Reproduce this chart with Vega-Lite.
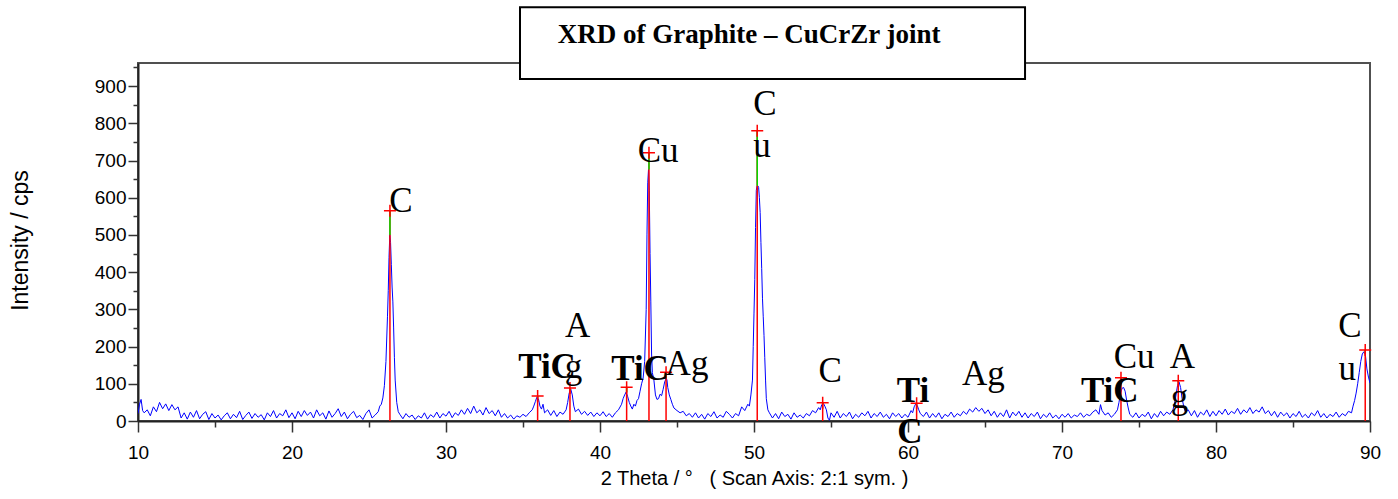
{
"$schema": "https://vega.github.io/schema/vega-lite/v6.json",
"width": 1232,
"height": 358,
"autosize": {"type": "none"},
"padding": {"left": 138, "top": 63, "right": 28, "bottom": 78},
"background": "white",
"config": {"view": {"stroke": "#505050", "strokeWidth": 2}},
"resolve": {"axis": {"x": "independent", "y": "independent"}},
"datasets": {
"xrd": [
{"t":10.0,"c":20},{"t":10.1,"c":45},{"t":10.2,"c":58},{"t":10.3,"c":28},{"t":10.4,"c":22},{"t":10.6,"c":30},{"t":10.8,"c":14},{"t":11.0,"c":38},{"t":11.2,"c":25},{"t":11.4,"c":50},{"t":11.6,"c":33},{"t":11.8,"c":46},{"t":12.0,"c":28},{"t":12.2,"c":44},{"t":12.4,"c":30},{"t":12.6,"c":38},{"t":12.8,"c":8},{"t":13.0,"c":22},{"t":13.2,"c":5},{"t":13.4,"c":24},{"t":13.6,"c":10},{"t":13.8,"c":28},{"t":14.0,"c":6},{"t":14.2,"c":18},{"t":14.4,"c":25},{"t":14.6,"c":4},{"t":14.8,"c":20},{"t":15.0,"c":8},{"t":15.2,"c":16},{"t":15.4,"c":3},{"t":15.6,"c":14},{"t":15.8,"c":22},{"t":16.0,"c":6},{"t":16.2,"c":18},{"t":16.4,"c":9},{"t":16.6,"c":26},{"t":16.8,"c":4},{"t":17.0,"c":15},{"t":17.2,"c":24},{"t":17.4,"c":7},{"t":17.6,"c":20},{"t":17.8,"c":10},{"t":18.0,"c":17},{"t":18.2,"c":3},{"t":18.4,"c":22},{"t":18.6,"c":12},{"t":18.8,"c":28},{"t":19.0,"c":8},{"t":19.2,"c":20},{"t":19.4,"c":14},{"t":19.6,"c":30},{"t":19.8,"c":9},{"t":20.0,"c":22},{"t":20.2,"c":6},{"t":20.4,"c":26},{"t":20.6,"c":12},{"t":20.8,"c":28},{"t":21.0,"c":15},{"t":21.2,"c":24},{"t":21.4,"c":8},{"t":21.6,"c":30},{"t":21.8,"c":14},{"t":22.0,"c":22},{"t":22.2,"c":5},{"t":22.4,"c":27},{"t":22.6,"c":10},{"t":22.8,"c":20},{"t":23.0,"c":33},{"t":23.2,"c":12},{"t":23.4,"c":24},{"t":23.6,"c":6},{"t":23.8,"c":18},{"t":24.0,"c":26},{"t":24.2,"c":9},{"t":24.4,"c":15},{"t":24.6,"c":4},{"t":24.8,"c":20},{"t":25.0,"c":30},{"t":25.2,"c":8},{"t":25.4,"c":16},{"t":25.6,"c":25},{"t":25.7,"c":40},{"t":25.8,"c":45},{"t":25.9,"c":62},{"t":26.0,"c":95},{"t":26.1,"c":160},{"t":26.2,"c":280},{"t":26.25,"c":350},{"t":26.3,"c":440},{"t":26.35,"c":500},{"t":26.4,"c":480},{"t":26.45,"c":420},{"t":26.5,"c":360},{"t":26.55,"c":320},{"t":26.6,"c":250},{"t":26.65,"c":170},{"t":26.7,"c":110},{"t":26.8,"c":50},{"t":26.9,"c":25},{"t":27.0,"c":18},
{"t":27.2,"c":6},{"t":27.4,"c":20},{"t":27.6,"c":10},{"t":27.8,"c":16},{"t":28.0,"c":4},{"t":28.2,"c":14},{"t":28.4,"c":8},{"t":28.6,"c":22},{"t":28.8,"c":5},{"t":29.0,"c":17},{"t":29.2,"c":10},{"t":29.4,"c":24},{"t":29.6,"c":8},{"t":29.8,"c":20},{"t":30.0,"c":13},{"t":30.2,"c":26},{"t":30.4,"c":9},{"t":30.6,"c":22},{"t":30.8,"c":15},{"t":31.0,"c":30},{"t":31.2,"c":18},{"t":31.4,"c":34},{"t":31.6,"c":20},{"t":31.8,"c":40},{"t":32.0,"c":22},{"t":32.2,"c":30},{"t":32.4,"c":16},{"t":32.6,"c":36},{"t":32.8,"c":20},{"t":33.0,"c":28},{"t":33.2,"c":14},{"t":33.4,"c":30},{"t":33.6,"c":10},{"t":33.8,"c":20},{"t":34.0,"c":8},{"t":34.2,"c":16},{"t":34.4,"c":5},{"t":34.6,"c":14},{"t":34.8,"c":10},{"t":35.0,"c":18},{"t":35.2,"c":12},{"t":35.4,"c":22},{"t":35.6,"c":30},{"t":35.7,"c":40},{"t":35.8,"c":52},{"t":35.9,"c":64},{"t":36.0,"c":60},{"t":36.1,"c":40},{"t":36.2,"c":32},{"t":36.3,"c":45},{"t":36.4,"c":22},{"t":36.6,"c":30},{"t":36.8,"c":15},{"t":37.0,"c":28},{"t":37.2,"c":12},{"t":37.4,"c":24},{"t":37.6,"c":18},{"t":37.8,"c":30},{"t":37.9,"c":50},{"t":38.0,"c":75},{"t":38.1,"c":86},{"t":38.2,"c":70},{"t":38.3,"c":40},{"t":38.4,"c":25},{"t":38.6,"c":32},{"t":38.8,"c":18},{"t":39.0,"c":26},{"t":39.2,"c":15},{"t":39.4,"c":24},{"t":39.6,"c":12},{"t":39.8,"c":22},{"t":40.0,"c":14},{"t":40.2,"c":25},{"t":40.4,"c":12},{"t":40.6,"c":20},{"t":40.8,"c":10},{"t":41.0,"c":22},{"t":41.2,"c":30},{"t":41.4,"c":45},{"t":41.5,"c":60},{"t":41.6,"c":70},{"t":41.7,"c":78},{"t":41.8,"c":65},{"t":41.9,"c":50},{"t":42.0,"c":40},{"t":42.1,"c":32},{"t":42.2,"c":45},{"t":42.3,"c":40},{"t":42.4,"c":55},{"t":42.5,"c":60},{"t":42.6,"c":80},{"t":42.7,"c":100},{"t":42.8,"c":115},{"t":42.9,"c":160},{"t":43.0,"c":300},{"t":43.05,"c":500},{"t":43.1,"c":640},{"t":43.15,"c":676},{"t":43.2,"c":620},{"t":43.25,"c":450},{"t":43.3,"c":320},{"t":43.35,"c":180},{"t":43.4,"c":130},{"t":43.5,"c":110},{"t":43.6,"c":70},{"t":43.7,"c":58},{"t":43.8,"c":60},{"t":43.9,"c":72},{"t":44.0,"c":68},{"t":44.1,"c":85},{"t":44.2,"c":105},{"t":44.3,"c":115},{"t":44.35,"c":110},{"t":44.4,"c":90},{"t":44.5,"c":70},{"t":44.6,"c":58},{"t":44.7,"c":45},{"t":44.8,"c":35},{"t":45.0,"c":28},{"t":45.2,"c":22},{"t":45.4,"c":26},{"t":45.6,"c":14},{"t":45.8,"c":20},
{"t":46.0,"c":10},{"t":46.2,"c":22},{"t":46.4,"c":8},{"t":46.6,"c":18},{"t":46.8,"c":5},{"t":47.0,"c":20},{"t":47.2,"c":12},{"t":47.4,"c":25},{"t":47.6,"c":8},{"t":47.8,"c":16},{"t":48.0,"c":10},{"t":48.2,"c":26},{"t":48.4,"c":18},{"t":48.6,"c":8},{"t":48.8,"c":20},{"t":49.0,"c":14},{"t":49.2,"c":38},{"t":49.4,"c":28},{"t":49.6,"c":45},{"t":49.7,"c":40},{"t":49.8,"c":70},{"t":49.9,"c":110},{"t":49.95,"c":200},{"t":50.0,"c":290},{"t":50.05,"c":380},{"t":50.1,"c":520},{"t":50.15,"c":620},{"t":50.2,"c":632},{"t":50.25,"c":632},{"t":50.3,"c":628},{"t":50.35,"c":600},{"t":50.4,"c":560},{"t":50.45,"c":480},{"t":50.5,"c":410},{"t":50.55,"c":330},{"t":50.6,"c":280},{"t":50.65,"c":230},{"t":50.7,"c":170},{"t":50.75,"c":110},{"t":50.8,"c":60},{"t":50.9,"c":30},{"t":51.0,"c":22},{"t":51.2,"c":8},{"t":51.4,"c":20},{"t":51.6,"c":6},{"t":51.8,"c":24},{"t":52.0,"c":12},{"t":52.2,"c":18},{"t":52.4,"c":5},{"t":52.6,"c":22},{"t":52.8,"c":10},{"t":53.0,"c":16},{"t":53.2,"c":8},{"t":53.4,"c":20},{"t":53.6,"c":14},{"t":53.8,"c":28},{"t":54.0,"c":22},{"t":54.2,"c":36},{"t":54.3,"c":30},{"t":54.4,"c":44},{"t":54.5,"c":48},{"t":54.6,"c":40},{"t":54.7,"c":30},{"t":54.8,"c":8},{"t":54.9,"c":2},{"t":55.0,"c":22},{"t":55.2,"c":10},{"t":55.4,"c":26},{"t":55.6,"c":8},{"t":55.8,"c":20},{"t":56.0,"c":12},{"t":56.2,"c":24},{"t":56.4,"c":6},{"t":56.6,"c":18},{"t":56.8,"c":10},{"t":57.0,"c":22},{"t":57.2,"c":14},{"t":57.4,"c":26},{"t":57.6,"c":8},{"t":57.8,"c":20},{"t":58.0,"c":12},{"t":58.2,"c":24},{"t":58.4,"c":10},{"t":58.6,"c":18},{"t":58.8,"c":6},{"t":59.0,"c":22},{"t":59.2,"c":12},{"t":59.4,"c":20},{"t":59.6,"c":8},{"t":59.8,"c":18},{"t":60.0,"c":10},{"t":60.2,"c":28},{"t":60.3,"c":22},{"t":60.4,"c":38},{"t":60.5,"c":46},{"t":60.6,"c":42},{"t":60.7,"c":30},{"t":60.8,"c":20},{"t":61.0,"c":12},{"t":61.2,"c":24},{"t":61.4,"c":8},{"t":61.6,"c":20},{"t":61.8,"c":10},{"t":62.0,"c":22},{"t":62.2,"c":6},{"t":62.4,"c":18},{"t":62.6,"c":12},{"t":62.8,"c":24},{"t":63.0,"c":10},{"t":63.2,"c":20},{"t":63.4,"c":14},{"t":63.6,"c":26},{"t":63.8,"c":18},{"t":64.0,"c":32},{"t":64.2,"c":24},{"t":64.4,"c":36},{"t":64.6,"c":26},{"t":64.8,"c":34},{"t":65.0,"c":20},{"t":65.2,"c":30},{"t":65.4,"c":14},{"t":65.6,"c":26},{"t":65.8,"c":10},{"t":66.0,"c":22},{"t":66.2,"c":12},{"t":66.4,"c":30},{"t":66.6,"c":8},{"t":66.8,"c":24},{"t":67.0,"c":14},{"t":67.2,"c":26},{"t":67.4,"c":10},{"t":67.6,"c":22},{"t":67.8,"c":8},{"t":68.0,"c":20},{"t":68.2,"c":12},{"t":68.4,"c":24},{"t":68.6,"c":6},{"t":68.8,"c":18},{"t":69.0,"c":10},{"t":69.2,"c":22},{"t":69.4,"c":8},{"t":69.6,"c":16},{"t":69.8,"c":6},{"t":70.0,"c":18},{"t":70.2,"c":10},{"t":70.4,"c":20},{"t":70.6,"c":8},{"t":70.8,"c":16},{"t":71.0,"c":12},{"t":71.2,"c":22},{"t":71.4,"c":10},{"t":71.6,"c":18},{"t":71.8,"c":14},{"t":72.0,"c":24},{"t":72.2,"c":30},{"t":72.4,"c":18},{"t":72.5,"c":44},{"t":72.6,"c":28},{"t":72.8,"c":16},{"t":73.0,"c":22},{"t":73.2,"c":10},{"t":73.4,"c":18},{"t":73.6,"c":30},{"t":73.7,"c":50},{"t":73.8,"c":75},{"t":73.9,"c":88},{"t":74.0,"c":90},{"t":74.1,"c":80},{"t":74.2,"c":55},{"t":74.3,"c":35},{"t":74.4,"c":18},{"t":74.6,"c":10},{"t":74.8,"c":22},{"t":75.0,"c":8},{"t":75.2,"c":18},{"t":75.4,"c":12},{"t":75.6,"c":24},{"t":75.8,"c":6},{"t":76.0,"c":20},{"t":76.2,"c":10},{"t":76.4,"c":26},{"t":76.6,"c":14},{"t":76.8,"c":24},{"t":77.0,"c":18},{"t":77.2,"c":30},{"t":77.3,"c":45},{"t":77.4,"c":70},{"t":77.5,"c":95},{"t":77.6,"c":105},{"t":77.7,"c":90},{"t":77.8,"c":60},{"t":77.9,"c":40},{"t":78.0,"c":25},{"t":78.2,"c":30},{"t":78.4,"c":14},{"t":78.6,"c":28},{"t":78.8,"c":10},{"t":79.0,"c":24},{"t":79.2,"c":16},{"t":79.4,"c":30},{"t":79.6,"c":12},{"t":79.8,"c":26},{"t":80.0,"c":14},{"t":80.2,"c":28},{"t":80.4,"c":18},{"t":80.6,"c":32},{"t":80.8,"c":16},{"t":81.0,"c":26},{"t":81.2,"c":20},{"t":81.4,"c":34},{"t":81.6,"c":18},{"t":81.8,"c":30},{"t":82.0,"c":22},{"t":82.2,"c":36},{"t":82.4,"c":20},{"t":82.6,"c":30},{"t":82.8,"c":24},{"t":83.0,"c":38},{"t":83.2,"c":20},{"t":83.4,"c":28},{"t":83.6,"c":14},{"t":83.8,"c":26},{"t":84.0,"c":10},{"t":84.2,"c":24},{"t":84.4,"c":14},{"t":84.6,"c":22},{"t":84.8,"c":8},{"t":85.0,"c":20},{"t":85.2,"c":12},{"t":85.4,"c":26},{"t":85.6,"c":10},{"t":85.8,"c":18},{"t":86.0,"c":8},{"t":86.2,"c":22},{"t":86.4,"c":14},{"t":86.6,"c":28},{"t":86.8,"c":10},{"t":87.0,"c":20},{"t":87.2,"c":8},{"t":87.4,"c":18},{"t":87.6,"c":12},{"t":87.8,"c":24},{"t":88.0,"c":10},{"t":88.2,"c":20},{"t":88.4,"c":14},{"t":88.6,"c":26},{"t":88.8,"c":22},{"t":88.9,"c":40},{"t":89.0,"c":55},{"t":89.1,"c":75},{"t":89.2,"c":100},{"t":89.3,"c":130},{"t":89.4,"c":160},{"t":89.5,"c":180},{"t":89.6,"c":186},{"t":89.7,"c":178},{"t":89.8,"c":140},{"t":89.9,"c":118},{"t":90.0,"c":102}
],
"ref": [
{"t":26.36,"top":565,"peak":500,"base":0},
{"t":35.95,"top":67,"peak":62,"base":0},
{"t":38.05,"top":89,"peak":84,"base":0},
{"t":41.73,"top":91,"peak":78,"base":0},
{"t":43.18,"top":721,"peak":676,"base":0},
{"t":44.29,"top":131,"peak":115,"base":0},
{"t":50.21,"top":780,"peak":632,"base":0},
{"t":54.46,"top":49,"peak":46,"base":0},
{"t":60.56,"top":48,"peak":44,"base":0},
{"t":73.83,"top":116,"peak":110,"base":0},
{"t":77.55,"top":108,"peak":104,"base":0},
{"t":89.69,"top":191,"peak":184,"base":0}
],
"lbl": [
{"t":27.08,"y":562,"s":"C","b":0},
{"t":36.56,"y":115,"s":"TiC","b":1},
{"t":38.54,"y":226,"s":"A","b":0},
{"t":38.28,"y":115,"s":"g","b":0},
{"t":42.6,"y":110,"s":"TiC","b":1},
{"t":45.65,"y":124,"s":"Ag","b":0},
{"t":43.77,"y":696,"s":"Cu","b":0},
{"t":50.71,"y":822,"s":"C","b":0},
{"t":50.52,"y":709,"s":"u","b":0},
{"t":54.94,"y":105,"s":"C","b":0},
{"t":60.32,"y":51,"s":"Ti","b":1},
{"t":60.13,"y":-59,"s":"C","b":1},
{"t":64.9,"y":97,"s":"Ag","b":0},
{"t":73.1,"y":51,"s":"TiC","b":1},
{"t":74.68,"y":142,"s":"Cu","b":0},
{"t":77.82,"y":142,"s":"A","b":0},
{"t":77.63,"y":35,"s":"g","b":0},
{"t":88.7,"y":226,"s":"C","b":0},
{"t":88.53,"y":110,"s":"u","b":0}
],
"box": [
{"x1":34.805,"x2":67.6,"y1":1112,"y2":919,"tx":49.68,"ty":1015.7,"title":"XRD of Graphite – CuCrZr joint"}
]
},
"layer": [
{
"data": {"name": "xrd"},
"mark": {"type": "line", "color": "#0000ff", "strokeWidth": 1, "clip": true},
"encoding": {
"x": {"field": "t", "type": "quantitative", "scale": {"domain": [10, 90], "nice": false, "zero": false},
"axis": {"orient": "bottom", "values": [10,20,30,40,50,60,70,80,90], "tickSize": 11,
"labelPadding": 11, "labelFlush": false, "labelOverlap": false, "labelBound": false,
"labelFont": "Liberation Sans", "labelFontSize": 19, "labelColor": "#000000",
"tickColor": "#333333", "tickWidth": 1.5, "domainColor": "#222222", "domainWidth": 2, "grid": false,
"title": "2 Theta / ° \u00a0 ( Scan Axis: 2:1 sym. )", "titleFont": "Liberation Sans", "titleFontSize": 20,
"titleFontWeight": "normal", "titleColor": "#000000", "titleY": 57, "titleBaseline": "middle"}},
"y": {"field": "c", "type": "quantitative", "scale": {"domain": [0, 962], "nice": false},
"axis": {"orient": "left", "values": [0,100,200,300,400,500,600,700,800,900], "tickSize": 10,
"labelPadding": 2, "labelOverlap": false, "labelBound": false, "labelFlush": false,
"labelFont": "Liberation Sans", "labelFontSize": 19, "labelColor": "#000000",
"tickColor": "#333333", "tickWidth": 1.5, "domainColor": "#222222", "domainWidth": 2, "grid": false,
"title": "Intensity / cps", "titleFont": "Liberation Sans", "titleFontSize": 23, "titleFontWeight": "normal",
"titleColor": "#000000", "titleX": -118, "titleY": 177, "titleAngle": -90, "titleAlign": "center", "titleBaseline": "middle"}}
}
},
{
"data": {"name": "ref"},
"mark": {"type": "rule", "color": "#ff0000", "strokeWidth": 1.5},
"encoding": {
"x": {"field": "t", "type": "quantitative",
"axis": {"orient": "bottom", "values": [15,25,35,45,55,65,75,85], "tickSize": 6, "labels": false, "domain": false, "title": null, "grid": false, "tickColor": "#333333", "tickWidth": 1.5}},
"y": {"field": "base", "type": "quantitative",
"axis": {"orient": "left", "values": [50,150,250,350,450,550,650,750,850,950], "tickSize": 5, "labels": false, "domain": false, "title": null, "grid": false, "tickColor": "#333333", "tickWidth": 1.5}},
"y2": {"field": "top"}}
},
{
"data": {"name": "ref"},
"mark": {"type": "rule", "color": "#00dd00", "strokeWidth": 1.5},
"encoding": {"x": {"field": "t", "type": "quantitative", "axis": null}, "y": {"field": "peak", "type": "quantitative", "axis": null}, "y2": {"field": "top"}}
},
{
"data": {"name": "ref"},
"mark": {"type": "point", "shape": "M-1,0H1M0,-1V1", "size": 144, "filled": false, "stroke": "#ff0000", "strokeWidth": 1.5, "opacity": 1},
"encoding": {"x": {"field": "t", "type": "quantitative", "axis": null}, "y": {"field": "top", "type": "quantitative", "axis": null}}
},
{
"data": {"name": "lbl"},
"transform": [{"filter": "datum.b == 0"}],
"mark": {"type": "text", "font": "Liberation Serif", "fontSize": 35, "align": "center", "baseline": "alphabetic", "color": "#000000"},
"encoding": {"x": {"field": "t", "type": "quantitative", "axis": null}, "y": {"field": "y", "type": "quantitative", "axis": null}, "text": {"field": "s"}}
},
{
"data": {"name": "lbl"},
"transform": [{"filter": "datum.b == 1"}],
"mark": {"type": "text", "font": "Liberation Serif", "fontSize": 35, "fontWeight": "bold", "align": "center", "baseline": "alphabetic", "color": "#000000"},
"encoding": {"x": {"field": "t", "type": "quantitative", "axis": null}, "y": {"field": "y", "type": "quantitative", "axis": null}, "text": {"field": "s"}}
},
{
"data": {"name": "box"},
"mark": {"type": "rect", "fill": "#ffffff", "stroke": "#000000", "strokeWidth": 2},
"encoding": {"x": {"field": "x1", "type": "quantitative", "axis": null}, "x2": {"field": "x2"}, "y": {"field": "y1", "type": "quantitative", "axis": null}, "y2": {"field": "y2"}}
},
{
"data": {"name": "box"},
"mark": {"type": "text", "font": "Liberation Serif", "fontSize": 27, "fontWeight": "bold", "align": "center", "baseline": "alphabetic", "color": "#000000"},
"encoding": {"x": {"field": "tx", "type": "quantitative", "axis": null}, "y": {"field": "ty", "type": "quantitative", "axis": null}, "text": {"field": "title"}}
}
]
}
